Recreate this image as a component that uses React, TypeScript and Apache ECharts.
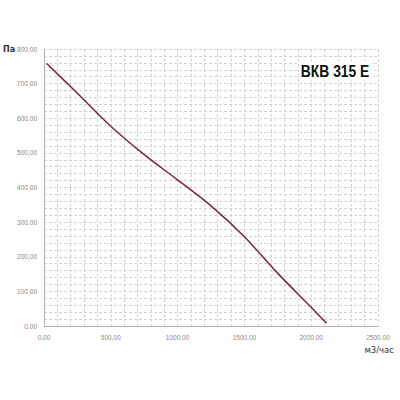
import React, { useEffect, useRef } from "react";
import * as echarts from "echarts";

const flowValues = [20, 250, 500, 750, 1000, 1250, 1500, 1750, 2000, 2115];
const pressureValues = [758, 672, 577, 495, 422, 347, 258, 152, 54, 8];
const title = "ВКВ 315 Е";
const yUnit = "Па";
const xUnit = "м3/час";

const fmt = (v: number) => v.toFixed(2).replace(".", ",");

export default function App() {
  const ref = useRef<HTMLDivElement>(null);
  useEffect(() => {
    document.body.style.margin = "0";
    const chart = echarts.init(ref.current!, null, { renderer: "svg" });
    const gridLine = { show: true, lineStyle: { color: "#d2d2d2", type: [3, 2] as any, width: 1 } };
    const labelStyle = { formatter: (v: number) => fmt(v), fontSize: 6.5, color: "#888888", fontFamily: "Liberation Sans" };
    chart.setOption({
      animation: false,
      backgroundColor: "#fff",
      grid: { left: 44, right: 22, top: 49, bottom: 74 },
      xAxis: {
        type: "value",
        min: 0,
        max: 2500,
        interval: 500,
        axisLine: { show: true, lineStyle: { color: "#b0b0b0" } },
        axisTick: { show: false },
        splitLine: gridLine,
        minorTick: { show: false, splitNumber: 5 },
        minorSplitLine: gridLine,
        axisLabel: { ...labelStyle, margin: 8 },
      },
      yAxis: {
        type: "value",
        min: 0,
        max: 800,
        interval: 100,
        axisLine: { show: true, lineStyle: { color: "#b0b0b0" } },
        axisTick: { show: false },
        splitLine: gridLine,
        minorTick: { show: false, splitNumber: 5 },
        minorSplitLine: gridLine,
        axisLabel: { ...labelStyle, margin: 7 },
      },
      graphic: [
        {
          type: "text",
          x: 3,
          y: 49,
          style: { text: yUnit, fontSize: 8, fontWeight: "bold", fill: "#333", fontFamily: "DejaVu Sans", textVerticalAlign: "middle" },
        },
        {
          type: "text",
          x: 394,
          y: 350,
          style: { text: xUnit, fontSize: 8.5, fill: "#333", fontFamily: "DejaVu Sans", textAlign: "right", textVerticalAlign: "middle" },
        },
        {
          type: "text",
          x: 371,
          y: 71,
          originX: 0,
          originY: 0,
          scaleX: 0.84,
          z: 10,
          style: {
            text: title,
            fontSize: 16.5,
            fontWeight: "bold",
            fill: "#111",
            fontFamily: "Liberation Sans, Arial, sans-serif",
            textAlign: "right",
            textVerticalAlign: "middle",
            backgroundColor: "#fff",
            padding: [1, 2],
          },
        },
      ],
      series: [
        {
          type: "line",
          smooth: 0.3,
          symbol: "none",
          data: flowValues.map((x, i) => [x, pressureValues[i]]),
          lineStyle: { color: "#7b2440", width: 1.5 },
        },
      ],
    });
    return () => chart.dispose();
  }, []);
  return <div ref={ref} style={{ width: 400, height: 400 }} />;
}
